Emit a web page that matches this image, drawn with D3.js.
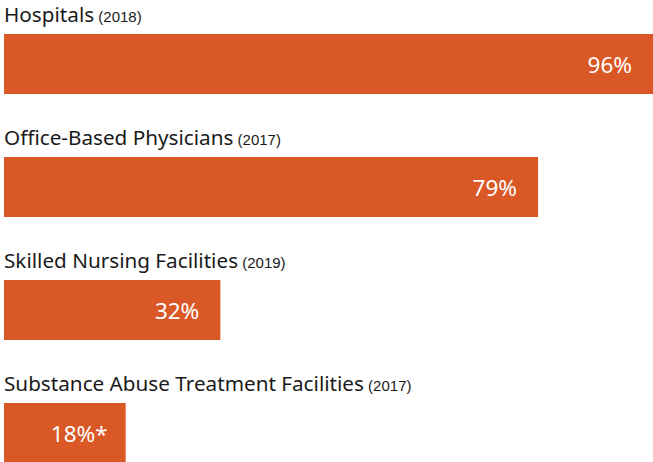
<!DOCTYPE html>
<html>
<head>
<meta charset="utf-8">
<script src="https://cdn.jsdelivr.net/npm/d3@7"></script>
<style>
	body { margin: 0; background: #fff; }
	svg { display: block; }
	.label { font-family: "Noto Sans", sans-serif; fill: #1a1a1a; }
	.year { font-family: "Liberation Sans", Arial, sans-serif; }
	.value { font-family: "Noto Sans", sans-serif; fill: #fff; }
</style>
</head>
<body>
<div id="graphContainer"></div>
<script>
var categories = ["Hospitals", "Office-Based Physicians", "Skilled Nursing Facilities", "Substance Abuse Treatment Facilities"];
var years = ["(2018)", "(2017)", "(2019)", "(2017)"];
var values = [96, 79, 32, 18];
var valueLabels = ["96%", "79%", "32%", "18%*"];

window.onload = function()
{
	GenerateGraph();
}

function GenerateGraph()
{
	var width = 653;
	var height = 462;
	var left = 4;
	var rowHeight = 123;
	var barTop = 34;
	var barHeight = 60;
	var barColor = "#DA5726";

	var data = categories.map(function(c, i) {
		return { name: c, year: years[i], value: values[i], label: valueLabels[i] };
	});

	var x = d3.scaleLinear()
		.domain([0, 96])
		.range([left, width]);

	var svg = d3.select("#graphContainer").append("svg")
		.attr("width", width)
		.attr("height", height);

	var rows = svg.selectAll(".row")
		.data(data).enter()
		.append("g")
		.attr("class", "row")
		.attr("transform", (d, i) => `translate(0, ${i * rowHeight})`);

	var title = rows.append("text")
		.attr("class", "label")
		.attr("x", left)
		.attr("y", 22);
	title.append("tspan")
		.style("font-size", "20.7px")
		.text(d => d.name);
	title.append("tspan")
		.attr("class", "year")
		.style("font-size", "15px")
		.text(d => " " + d.year);

	rows.append("rect")
		.attr("x", x(0))
		.attr("y", barTop)
		.attr("width", d => x(d.value) - x(0))
		.attr("height", barHeight)
		.style("fill", barColor);

	rows.append("text")
		.attr("class", "value")
		.attr("x", d => x(d.value) - (d.label.indexOf("*") >= 0 ? 18 : 21))
		.attr("y", barTop + 39)
		.attr("text-anchor", "end")
		.style("font-size", "22.5px")
		.text(d => d.label);
}
</script>
</body>
</html>
